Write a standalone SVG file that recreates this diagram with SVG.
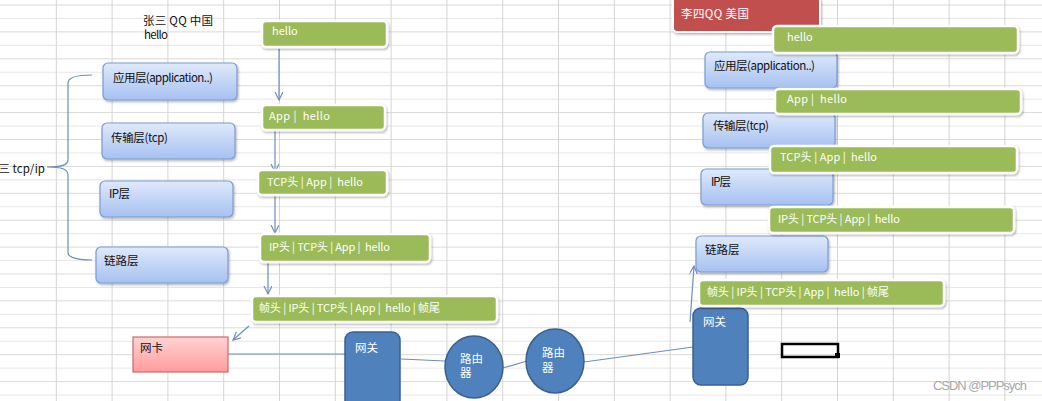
<svg xmlns="http://www.w3.org/2000/svg" width="1042" height="401" viewBox="0 0 1042 401">
<defs>
<style>
text{font-family:"Noto Sans CJK SC","DejaVu Sans",sans-serif;white-space:pre}
.lbl{font-size:11.5px;fill:#111}
.gt{font-size:11px;fill:#ffffff}
.wt{font-size:11.5px;fill:#ffffff}
.green{fill:#9bbb59;stroke:#ffffff;stroke-width:2.5;filter:url(#sh)}
.blue{fill:url(#bg);stroke:#7b9cd2;stroke-width:1.2;filter:url(#sh)}
.dark{fill:#4f81bd;stroke:#3a5f8e;stroke-width:1.5}
.conn{fill:none;stroke:#6c8ebf;stroke-width:1.2}
</style>
<linearGradient id="bg" x1="0" y1="0" x2="0" y2="1">
<stop offset="0" stop-color="#dfe9fb"/>
<stop offset="1" stop-color="#a6c1f1"/>
</linearGradient>
<linearGradient id="pg" x1="0" y1="0" x2="0" y2="1">
<stop offset="0" stop-color="#ffd3d3"/>
<stop offset="1" stop-color="#ff9c9c"/>
</linearGradient>
<filter id="sh" x="-10%" y="-20%" width="130%" height="150%">
<feDropShadow dx="1" dy="1.5" stdDeviation="1.2" flood-color="#000" flood-opacity="0.3"/>
</filter>
<marker id="arr" markerUnits="userSpaceOnUse" markerWidth="10" markerHeight="10" refX="8" refY="4" orient="auto">
<path d="M0,0 L8,4 L0,8" fill="none" stroke="#6c8ebf" stroke-width="1.2"/>
</marker>
</defs>
<rect x="0" y="0" width="1042" height="401" fill="#ffffff"/>
<g id="grid" fill="none">
<path stroke="#dadada" stroke-width="1" d="M0,5H1042M0,31.9H1042M0,58.8H1042M0,85.7H1042M0,112.6H1042M0,139.5H1042M0,166.4H1042M0,193.3H1042M0,220.2H1042M0,247.1H1042M0,274H1042M0,300.9H1042M0,327.8H1042M0,354.7H1042M0,381.6H1042"/>
<path stroke="#e6e6e6" stroke-width="1" d="M0,18.45H1042M0,45.35H1042M0,72.25H1042M0,99.15H1042M0,126.05H1042M0,152.95H1042M0,179.85H1042M0,206.75H1042M0,233.65H1042M0,260.55H1042M0,287.45H1042M0,314.35H1042M0,341.25H1042M0,368.15H1042M0,395.05H1042"/>
<path stroke="#d4d4d4" stroke-width="1" d="M56.3,0V401M112.1,0V401M167.9,0V401M223.7,0V401M279.5,0V401M335.3,0V401M391.1,0V401M446.9,0V401M502.7,0V401M558.5,0V401M614.3,0V401M670.1,0V401M725.9,0V401M781.7,0V401M837.5,0V401M893.3,0V401M949.1,0V401M1004.9,0V401"/>
</g>
<g id="connectors">
<path class="conn" d="M92,75 C80,75 68,76 68,83 L68,160 C68,165 62,167 47,167 C62,167 68,169 68,175 L68,253 C68,258 80,260 92,260"/>
<path class="conn" d="M279,49 L279,100" marker-end="url(#arr)"/>
<path class="conn" d="M275,131 L275,172" marker-end="url(#arr)"/>
<path class="conn" d="M275,196 L275,233" marker-end="url(#arr)"/>
<path class="conn" d="M268,263 L268,294" marker-end="url(#arr)"/>
<path class="conn" d="M249,326 L233,340" marker-end="url(#arr)"/>
<path class="conn" d="M228,354 L345,354"/>
<path class="conn" d="M401,359 L445,361"/>
<path class="conn" d="M503,368 L527,361"/>
<path class="conn" d="M584,362 L693,347"/>
<path class="conn" d="M690,322 L694,266" marker-end="url(#arr)"/>
</g>
<g id="title-left">
<text class="lbl" x="143" y="25" font-size="11.5" textLength="70">张三 QQ 中国</text>
<text class="lbl" x="144" y="39" font-size="11" textLength="24">hello</text>
</g>
<g id="tcpip-left">
<text class="lbl" x="-13" y="173" textLength="58">张三 tcp/ip</text>
</g>
<g id="l-hello"><rect class="green" x="262" y="21" width="125" height="26" rx="4"/><text class="gt" x="272" y="35">hello</text></g>
<g id="l-app"><rect class="green" x="262" y="105" width="123" height="25" rx="4"/><text class="gt" x="269" y="120" textLength="61">App |  hello</text></g>
<g id="l-tcp"><rect class="green" x="258" y="170" width="129" height="25" rx="4"/><text class="gt" x="267" y="186" textLength="96">TCP头 | App |  hello</text></g>
<g id="l-ip"><rect class="green" x="260" y="234" width="170" height="28" rx="4"/><text class="gt" x="269" y="251" textLength="121">IP头 | TCP头 | App |  hello</text></g>
<g id="l-frame"><rect class="green" x="252" y="296" width="245" height="26" rx="4"/><text class="gt" x="259" y="312" textLength="181">帧头 | IP头 | TCP头 | App |  hello | 帧尾</text></g>
<g id="l-app-layer"><rect class="blue" x="103" y="63" width="134" height="37" rx="5"/><text class="lbl" x="113" y="82" textLength="100">应用层(application..)</text></g>
<g id="l-tcp-layer"><rect class="blue" x="102" y="123" width="133" height="36" rx="5"/><text class="lbl" x="111" y="142" textLength="57">传输层(tcp)</text></g>
<g id="l-ip-layer"><rect class="blue" x="100" y="181" width="133" height="36" rx="5"/><text class="lbl" x="109" y="198" textLength="21">IP层</text></g>
<g id="l-link-layer"><rect class="blue" x="96" y="247" width="132" height="36" rx="5"/><text class="lbl" x="104" y="265">链路层</text></g>
<g id="nic"><rect x="133" y="337" width="95" height="35" fill="url(#pg)" stroke="#c86a6a" stroke-width="1.2"/><text class="lbl" x="140" y="352">网卡</text></g>
<g id="gw-left"><rect class="dark" x="345" y="332" width="55" height="82" rx="8"/><text class="wt" x="355" y="352">网关</text></g>
<g id="router1"><ellipse class="dark" cx="474" cy="367" rx="29" ry="31"/><text class="wt" x="460" y="363">路由</text><text class="wt" x="460" y="377">器</text></g>
<g id="router2"><ellipse class="dark" cx="555" cy="361" rx="29" ry="32"/><text class="wt" x="542" y="357">路由</text><text class="wt" x="542" y="372">器</text></g>
<g id="gw-right"><rect class="dark" x="693" y="308" width="55" height="77" rx="8"/><text class="wt" x="703" y="326">网关</text></g>
<g id="lisi"><rect x="673" y="-3" width="147" height="35" rx="4" fill="#c0504d" stroke="#ffffff" stroke-width="2" filter="url(#sh)"/><text class="wt" x="681" y="18" textLength="68">李四QQ 美国</text></g>
<g id="r-app-layer"><rect class="blue" x="705" y="52" width="132" height="36" rx="5"/><text class="lbl" x="714" y="70" textLength="101">应用层(application..)</text></g>
<g id="r-tcp-layer"><rect class="blue" x="703" y="113" width="132" height="35" rx="5"/><text class="lbl" x="713" y="130" textLength="56">传输层(tcp)</text></g>
<g id="r-ip-layer"><rect class="blue" x="701" y="169" width="132" height="36" rx="5"/><text class="lbl" x="711" y="186" textLength="20">IP层</text></g>
<g id="r-link-layer"><rect class="blue" x="696" y="236" width="132" height="36" rx="5"/><text class="lbl" x="705" y="254">链路层</text></g>
<g id="r-hello"><rect class="green" x="773" y="26" width="245" height="27" rx="4"/><text class="gt" x="787" y="41">hello</text></g>
<g id="r-app"><rect class="green" x="775" y="89" width="246" height="25" rx="4"/><text class="gt" x="787" y="103" textLength="60">App |  hello</text></g>
<g id="r-tcp"><rect class="green" x="770" y="146" width="247" height="27" rx="4"/><text class="gt" x="780" y="161" textLength="97">TCP头 | App |  hello</text></g>
<g id="r-ip"><rect class="green" x="769" y="207" width="245" height="26" rx="4"/><text class="gt" x="778" y="223" textLength="122">IP头 | TCP头 | App |  hello</text></g>
<g id="r-frame"><rect class="green" x="699" y="280" width="245" height="26" rx="4"/><text class="gt" x="707" y="296" textLength="182">帧头 | IP头 | TCP头 | App |  hello | 帧尾</text></g>
<g id="cell-select"><rect x="782" y="344" width="56" height="13" fill="none" stroke="#000000" stroke-width="2.5"/><rect x="835" y="353" width="5" height="5" fill="#000000"/></g>
<g id="watermark"><text x="933" y="390" font-size="13" fill="#a8a8a8" textLength="94" style="font-family:'Liberation Sans',sans-serif">CSDN @PPPsych</text></g>
</svg>
